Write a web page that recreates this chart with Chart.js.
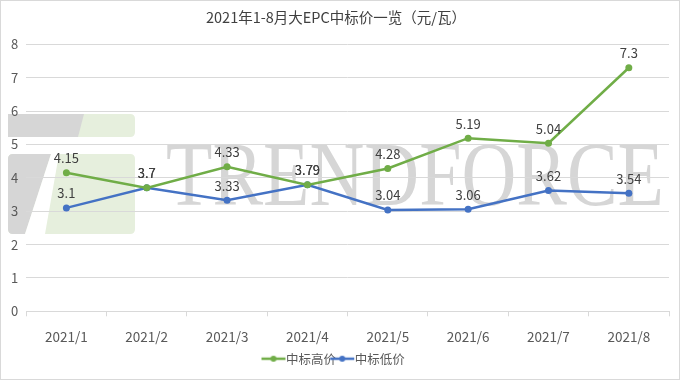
<!DOCTYPE html>
<html><head><meta charset="utf-8">
<script src="https://cdn.jsdelivr.net/npm/chart.js@4/dist/chart.umd.min.js"></script>
<style>
html,body{margin:0;padding:0;background:#fff;}
#wrap{position:relative;width:680px;height:380px;box-sizing:border-box;border:1px solid #d9d9d9;}
canvas{display:block;}
</style></head><body>
<div id="wrap"><canvas id="c" width="678" height="378"></canvas></div>
<script>
const categories = ['2021/1','2021/2','2021/3','2021/4','2021/5','2021/6','2021/7','2021/8'];
const highPrice = [4.15, 3.7, 4.33, 3.79, 4.28, 5.19, 5.04, 7.3];
const lowPrice  = [3.1, 3.7, 3.33, 3.79, 3.04, 3.06, 3.62, 3.54];
const seriesNames = ['中标高价','中标低价'];
const title = '2021年1-8月大EPC中标价一览（元/瓦）';
const GREEN = '#70AD47', BLUE = '#4472C4';
const FONT = '"Noto Sans CJK SC","Noto Sans",sans-serif';

function legendIcon(color){
  const cv = document.createElement('canvas'); cv.width = 26; cv.height = 10;
  const x = cv.getContext('2d');
  x.strokeStyle = color; x.lineWidth = 2.5;
  x.beginPath(); x.moveTo(1,5); x.lineTo(25,5); x.stroke();
  x.fillStyle = color; x.beginPath(); x.arc(13,5,3,0,Math.PI*2); x.fill();
  return cv;
}

function rrect(c, x0, y0, x1, y1, r){
  c.beginPath();
  c.moveTo(x0+r,y0); c.lineTo(x1-r,y0); c.quadraticCurveTo(x1,y0,x1,y0+r);
  c.lineTo(x1,y1-r); c.quadraticCurveTo(x1,y1,x1-r,y1);
  c.lineTo(x0+r,y1); c.quadraticCurveTo(x0,y1,x0,y1-r);
  c.lineTo(x0,y0+r); c.quadraticCurveTo(x0,y0,x0+r,y0); c.closePath();
}

const watermark = {
  id:'watermark',
  beforeDraw(chart){
    const c = chart.ctx; c.save();
    c.fillStyle = '#e6efdd';
    rrect(c, 7, 113, 134, 136, 5); c.fill();
    c.fillStyle = '#d6d6d6';
    c.beginPath(); c.moveTo(7,113); c.lineTo(83,113); c.lineTo(77,136); c.lineTo(7,136); c.closePath(); c.fill();
    c.fillStyle = '#e6efdd';
    rrect(c, 7, 153, 134, 233, 5); c.fill();
    c.fillStyle = '#d6d6d6';
    c.save(); rrect(c, 7, 153, 134, 233, 5); c.clip();
    c.beginPath(); c.moveTo(7,153); c.lineTo(50,153); c.lineTo(24,233); c.lineTo(7,233); c.closePath(); c.fill();
    c.fillStyle = '#ffffff';
    c.beginPath(); c.moveTo(50,153); c.lineTo(58,153); c.lineTo(44,233); c.lineTo(24,233); c.closePath(); c.fill();
    c.restore();
    c.fillStyle = '#d6d6d6';
    c.font = '92px "Liberation Serif", serif';
    c.textBaseline = 'alphabetic';
    const w = c.measureText('TRENDFORCE').width;
    c.translate(165, 204);
    c.scale(498 / w, 1);
    c.fillText('TRENDFORCE', 0, 0);
    c.restore();
  }
};

const dataLabels = {
  id:'dataLabels',
  afterDatasetsDraw(chart){
    const c = chart.ctx; c.save();
    c.font = '13px ' + FONT; c.fillStyle = '#404040';
    c.textAlign = 'center'; c.textBaseline = 'bottom';
    chart.data.datasets.forEach((ds, di) => {
      const meta = chart.getDatasetMeta(di);
      meta.data.forEach((pt, i) => {
        c.fillText(String(ds.data[i]), pt.x, pt.y - 8);
      });
    });
    c.restore();
  }
};

new Chart(document.getElementById('c'), {
  type:'line',
  data:{
    labels: categories,
    datasets:[
      {label: seriesNames[0], data: highPrice, borderColor: GREEN, backgroundColor: GREEN,
       borderWidth: 2.5, pointRadius: 3.5, pointBackgroundColor: GREEN, pointBorderWidth: 0, tension: 0},
      {label: seriesNames[1], data: lowPrice, borderColor: BLUE, backgroundColor: BLUE,
       borderWidth: 2.5, pointRadius: 3.5, pointBackgroundColor: BLUE, pointBorderWidth: 0, tension: 0}
    ]
  },
  options:{
    responsive:false, animation:false, devicePixelRatio:1,
    layout:{padding:{left:2, right:10, top:2, bottom:4}},
    plugins:{
      title:{display:true, text:title, color:'#404040', font:{family:FONT, size:14.5, weight:'normal'}, padding:{top:6, bottom:18}},
      legend:{position:'bottom', labels:{
        color:'#595959', font:{family:FONT, size:12.5}, usePointStyle:true, boxWidth:26, boxHeight:10, padding:0,
        generateLabels(chart){
          return chart.data.datasets.map((ds,i)=>({text:ds.label, pointStyle:legendIcon(ds.borderColor), fontColor:'#595959', datasetIndex:i, lineWidth:0, strokeStyle:'rgba(0,0,0,0)', fillStyle:'rgba(0,0,0,0)'}));
        }
      }},
      tooltip:{enabled:false}
    },
    scales:{
      y:{min:0, max:8, ticks:{stepSize:1, color:'#595959', font:{family:FONT, size:13}, padding:8},
         grid:{color:'#d9d9d9', drawTicks:false}, border:{display:false}},
      x:{offset:true, ticks:{color:'#595959', font:{family:FONT, size:13.5}, padding:12},
         afterFit(scale){ scale.height -= 4; },
         grid:{drawOnChartArea:false, color:'#d9d9d9', tickLength:5, offset:true}, border:{color:'#d9d9d9'}}
    }
  },
  plugins:[watermark, dataLabels]
});
</script>
</body></html>
